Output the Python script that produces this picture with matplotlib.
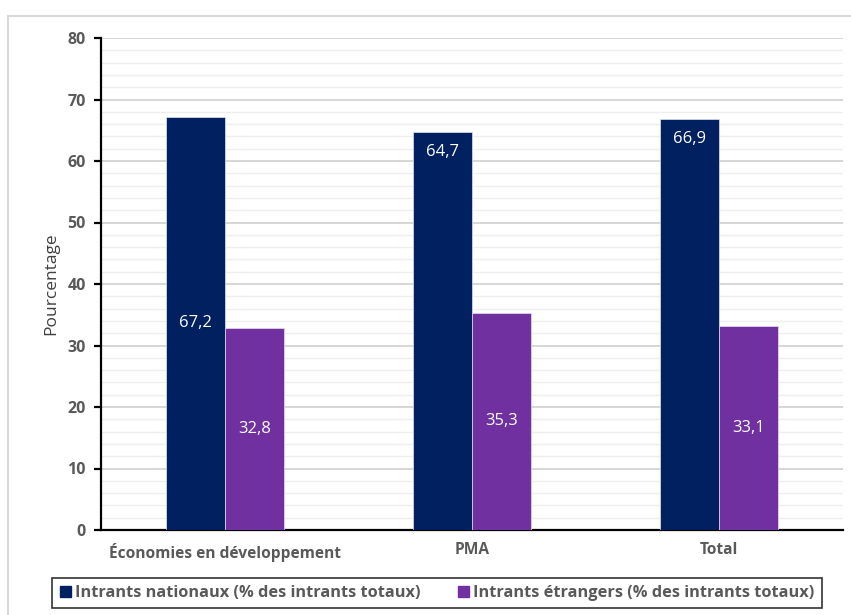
import numpy as np
import matplotlib.pyplot as plt
from matplotlib.patches import Rectangle, Patch
from matplotlib.ticker import MultipleLocator

plt.rcParams['font.family'] = ['Open Sans', 'DejaVu Sans']

categories = ['Économies en développement', 'PMA', 'Total']
nationaux = [67.2, 64.7, 66.9]
etrangers = [32.8, 35.3, 33.1]
series_names = ['Intrants nationaux (% des intrants totaux)',
                'Intrants étrangers (% des intrants totaux)']
# where each navy label sits: centre of bar or just inside its top
nat_label_pos = ['center', 'inside_end', 'inside_end']

navy = '#002060'
purple = '#7030A0'
grey_txt = '#595959'

fig = plt.figure(figsize=(8.51, 6.15), dpi=100)
ax = fig.add_axes([101 / 851, 1 - 530 / 615, 742 / 851, 492 / 615])

# outer chart-area frame
fig.add_artist(Rectangle((8 / 851, -0.05), 1.0, 1 - 16 / 615 + 0.05,
                         transform=fig.transFigure, fill=False,
                         edgecolor='#d9d9d9', lw=1.5))

x = np.arange(len(categories))
w = 0.239
b1 = ax.bar(x - w / 2, nationaux, w, color=navy, edgecolor='#dfe3ee', lw=0.5, zorder=3)
b2 = ax.bar(x + w / 2, etrangers, w, color=purple, edgecolor='#e8dcf0', lw=0.5, zorder=3)

for rect, v, pos in zip(b1, nationaux, nat_label_pos):
    y = v / 2 if pos == 'center' else v - 3.25
    ax.text(rect.get_x() + rect.get_width() / 2, y, f'{v:.1f}'.replace('.', ','),
            ha='center', va='center', color='white', fontsize=12, zorder=4)
for rect, v in zip(b2, etrangers):
    ax.text(rect.get_x() + rect.get_width() / 2, v / 2, f'{v:.1f}'.replace('.', ','),
            ha='center', va='center', color='white', fontsize=12, zorder=4)

ax.set_xlim(-0.5, 2.5)
ax.set_ylim(0, 80)
ax.yaxis.set_major_locator(MultipleLocator(10))
ax.yaxis.set_minor_locator(MultipleLocator(2))
ax.grid(axis='y', which='major', color='#d0d0d0', lw=1.2, zorder=0)
ax.grid(axis='y', which='minor', color='#eeeeee', lw=1.0, zorder=0)

for s in ['top', 'right']:
    ax.spines[s].set_visible(False)
ax.spines['left'].set_linewidth(1.6)
ax.spines['bottom'].set_linewidth(1.6)
ax.tick_params(axis='y', which='major', length=5, width=1.6, labelsize=11.5,
               labelcolor=grey_txt, pad=6)
ax.tick_params(axis='y', which='minor', length=0)
ax.tick_params(axis='x', length=0, labelsize=11.2, labelcolor=grey_txt, pad=9)
for lab in ax.get_yticklabels():
    lab.set_fontweight('bold')
ax.set_xticks(x)
ax.set_xticklabels(categories, fontweight='bold')
ax.set_ylabel('Pourcentage', fontsize=12.5, color='#404040', labelpad=6)

handles = [Patch(color=navy), Patch(color=purple)]
leg = fig.legend(handles, series_names, loc='center',
                 bbox_to_anchor=(437 / 851, 1 - 593 / 615), ncol=2,
                 frameon=True, fancybox=False, edgecolor='black',
                 handlelength=0.7, handleheight=0.7, handletextpad=0.25,
                 columnspacing=2.25, borderpad=0.45,
                 prop={'weight': 'bold', 'size': 11.8})
leg.get_frame().set_linewidth(1.2)
for t in leg.get_texts():
    t.set_color(grey_txt)

fig.savefig('out.png', dpi=100)
